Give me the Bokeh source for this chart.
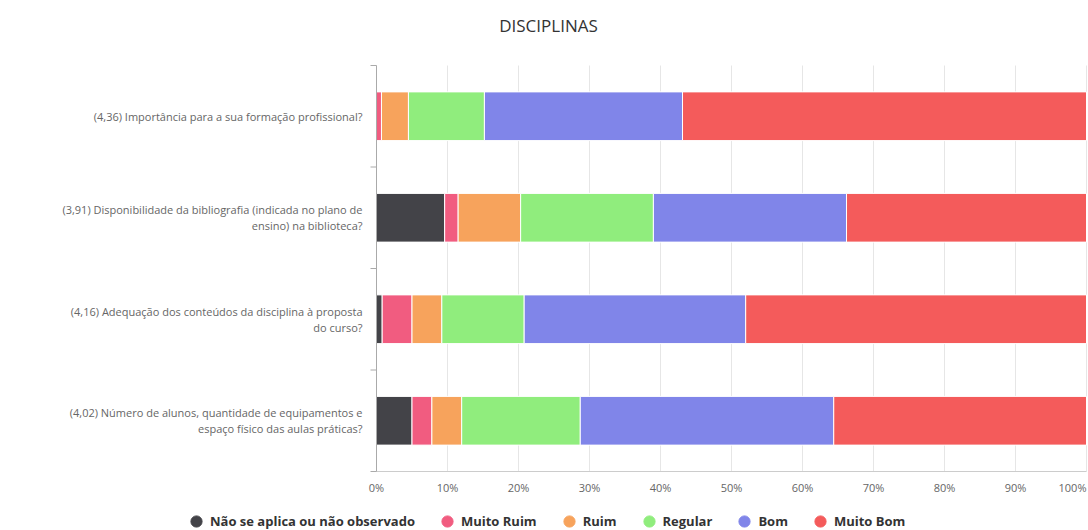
import numpy as np
from bokeh.plotting import figure
from bokeh.models import Range1d, Legend, LegendItem, ColumnDataSource
from bokeh.core.properties import value
from bokeh.embed import file_html
from bokeh.resources import INLINE

# ---- data ----
title_text = "DISCIPLINAS"
questions = [
    "(4,36) Importância para a sua formação profissional?",
    "(3,91) Disponibilidade da bibliografia (indicada no plano de\nensino) na biblioteca?",
    "(4,16) Adequação dos conteúdos da disciplina à proposta\ndo curso?",
    "(4,02) Número de alunos, quantidade de equipamentos e\nespaço físico das aulas práticas?",
]
series_names = ["Não se aplica ou não observado", "Muito Ruim", "Ruim", "Regular", "Bom", "Muito Bom"]
series_colors = ["#434348", "#f15c80", "#f7a35c", "#90ed7d", "#8085e9", "#f45b5b"]
nao_se_aplica = [0.0, 9.6, 0.8, 5.0]
muito_ruim = [0.7, 1.9, 4.2, 2.8]
ruim = [3.8, 8.8, 4.2, 4.2]
regular = [10.7, 18.7, 11.6, 16.7]
bom = [27.9, 27.2, 31.2, 35.7]
muito_bom = [56.9, 33.8, 48.0, 35.6]
x_ticks = [0, 10, 20, 30, 40, 50, 60, 70, 80, 90, 100]
x_tick_labels = ["0%", "10%", "20%", "30%", "40%", "50%", "60%", "70%", "80%", "90%", "100%"]

values = [nao_se_aplica, muito_ruim, ruim, regular, bom, muito_bom]

# ---- layout constants (pixels) ----
W, H = 1088, 530
PLOT_L, PLOT_R, PLOT_T, PLOT_B = 376, 1086, 65, 471
n = len(questions)
ypos = [n - 1 - i for i in range(n)]  # first question on top
pxx = (PLOT_R - PLOT_L) / 100.0       # pixels per percent
pxy = (PLOT_B - PLOT_T) / float(n)    # pixels per category
x0 = -PLOT_L / pxx
x1 = 100 + (W - PLOT_R) / pxx
y0 = -0.5 - (H - PLOT_B) / pxy
y1 = n - 0.5 + PLOT_T / pxy

p = figure(width=W, height=H, output_backend="svg", toolbar_location=None,
           x_range=Range1d(x0, x1), y_range=Range1d(y0, y1),
           min_border=0)
p.outline_line_color = None
p.background_fill_color = "white"
p.border_fill_color = "white"
p.xaxis.visible = False
p.yaxis.visible = False
p.xgrid.visible = False
p.ygrid.visible = False

font = value("Open Sans")

# vertical grid lines
p.segment(x0=x_ticks, x1=x_ticks, y0=[-0.5] * len(x_ticks), y1=[n - 0.5] * len(x_ticks),
          line_color="#e6e6e6", line_width=1)

# bars
left = np.zeros(n)
legend_items = []
for name, color, vals in zip(series_names, series_colors, values):
    vals = np.array(vals, dtype=float)
    right = left + vals
    src = ColumnDataSource(dict(y=ypos, left=left.copy(), right=right.copy()))
    p.hbar(y="y", left="left", right="right", height=0.48, source=src,
           fill_color=color, line_color="white", line_width=1)
    left = right
    dummy = p.scatter(x=[x0 - 100], y=[y0 - 100], marker="circle", size=12,
                      fill_color=color, line_color=color)
    legend_items.append(LegendItem(label=name, renderers=[dummy]))

# x axis line (bottom) and category axis (left)
p.segment(x0=[0], x1=[100], y0=[-0.5], y1=[-0.5], line_color="#cccccc", line_width=1)
p.segment(x0=[0], x1=[0], y0=[-0.5], y1=[n - 0.5], line_color="#aaaaaa", line_width=1)
bounds = [i - 0.5 for i in range(n + 1)]
p.segment(x0=[-6 / pxx] * len(bounds), x1=[0] * len(bounds), y0=bounds, y1=bounds,
          line_color="#aaaaaa", line_width=1)

# x tick labels
ylab = -0.5 - 16 / pxy
p.text(x=x_ticks[:-1], y=[ylab] * (len(x_ticks) - 1), text=x_tick_labels[:-1],
       text_align="center", text_baseline="middle", text_font=font,
       text_font_size="11px", text_color="#666666")
p.text(x=[x_ticks[-1]], y=[ylab], text=[x_tick_labels[-1]],
       text_align="right", text_baseline="middle", text_font=font,
       text_font_size="11px", text_color="#666666")

# category labels
p.text(x=[-14 / pxx] * n, y=ypos, text=questions, text_align="right", text_baseline="middle",
       text_font=font, text_font_size="11px", text_color="#666666", text_line_height=1.05)

# title
p.text(x=[(548 - PLOT_L) / pxx], y=[n - 0.5 + (PLOT_T - 25) / pxy], text=[title_text],
       text_align="center", text_baseline="middle", text_font=font,
       text_font_size="17px", text_color="#333333")

legend = Legend(items=legend_items, orientation="horizontal", location=(182, -5),
                label_text_font="Open Sans", label_text_font_size="13px",
                label_text_font_style="bold", label_text_color="#333333",
                glyph_width=28, glyph_height=28, label_standoff=0, spacing=18,
                padding=0, margin=0, label_height=14,
                border_line_color=None, background_fill_alpha=0)
p.add_layout(legend, "center")

open("out.html", "w").write(file_html(p, INLINE))
